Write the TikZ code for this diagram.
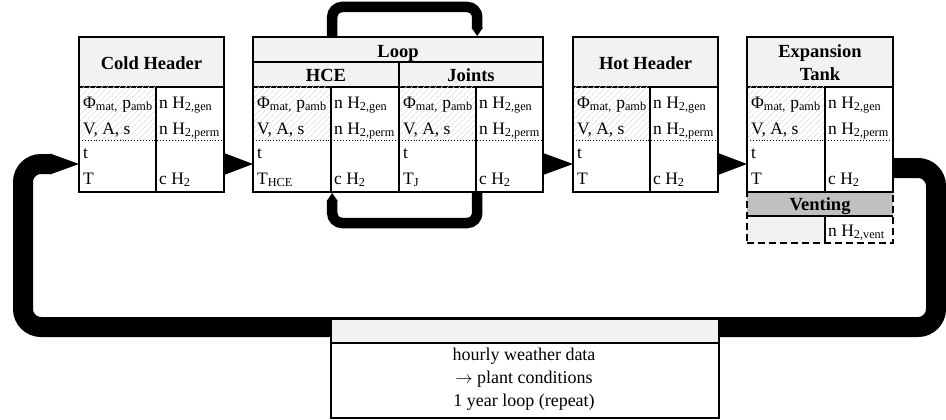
\documentclass[tikz,border=0pt]{standalone}
\usepackage{fontspec}
\setmainfont{Liberation Serif}
\usetikzlibrary{patterns.meta,calc}
\pgfdeclarelayer{bg}
\pgfsetlayers{bg,main}
\definecolor{headgray}{RGB}{242,242,242}
\definecolor{ventgray}{RGB}{192,192,192}
\definecolor{hatchgray}{RGB}{222,222,222}
\newcommand\lo[1]{\textsubscript{#1}}
% one component column pair: #1 left x, #2 divider x, #3 right x, #4 temperature, #5 name prefix
\newcommand\cellblock[5]{%
  \fill[pattern={Lines[angle=45,distance=4pt,line width=0.8pt]}, pattern color=hatchgray] (#1,87) rectangle (#2,140);
  \draw[dotted, line width=0.9pt] (#1,140) -- (#3,140);
  \draw[divider] (#2,87) -- (#2,192);
  \node[cell] (#5-phi)  at (#1+4,108) {Φ\lo{mat,} p\lo{amb}};
  \node[cell] (#5-vas)  at (#1+4,134) {V, A, s};
  \node[cell] (#5-t)    at (#1+4,158) {t};
  \node[cell] (#5-temp) at (#1+4,184) {#4};
  \node[cell] (#5-gen)  at (#2+3,108) {n H\lo{2,gen}};
  \node[cell] (#5-perm) at (#2+3,134) {n H\lo{2,perm}};
  \node[cell] (#5-conc) at (#2+3,184) {c H\lo{2}};
}
\begin{document}
\begin{tikzpicture}[x=1pt,y=-1pt,
  frame/.style={draw=black, line width=1.8pt, inner sep=0pt, outer sep=0pt, anchor=north west},
  rule/.style={line width=1.4pt},
  divider/.style={line width=1.3pt},
  cell/.style={anchor=base west, inner sep=0pt, font=\fontsize{17.5}{20}\selectfont},
  title/.style={anchor=base, inner sep=0pt, font=\fontsize{18.5}{22}\selectfont\bfseries},
  body/.style={anchor=base, inner sep=0pt, font=\fontsize{18}{22}\selectfont},
  smallflow/.style={line width=10.5pt, rounded corners=10pt},
  bigflow/.style={line width=20pt, rounded corners=18pt}]
\useasboundingbox (0,0) rectangle (946,420);

% ---- Cold Header ----
\fill[headgray] (79,37) rectangle (224,87);
\draw[rule] (79,87) -- (224,87);
\cellblock{79}{156}{224}{T}{cold}
\node[title] (coldtitle) at (151.5,69.5) {Cold Header};
\node[frame, minimum width=145pt, minimum height=155pt] (cold) at (79,37) {};

% ---- Loop (HCE + Joints) ----
\fill[headgray] (253,37) rectangle (543,87);
\draw[rule] (253,62) -- (543,62);
\draw[rule] (253,87) -- (543,87);
\cellblock{253}{331}{399}{T\lo{HCE}}{hce}
\cellblock{399}{476}{543}{T\lo{J}}{jnt}
\draw[rule] (399,62) -- (399,192);
\node[title] (looptitle) at (398,58) {Loop};
\node[title] (hcetitle) at (326,81.5) {HCE};
\node[title] (jnttitle) at (471,81.5) {Joints};
\node[inner sep=0pt, minimum width=146pt, minimum height=130pt, anchor=north west] (hce) at (253,62) {};
\node[inner sep=0pt, minimum width=144pt, minimum height=130pt, anchor=north west] (joints) at (399,62) {};
\node[frame, minimum width=290pt, minimum height=155pt] (loop) at (253,37) {};

% ---- Hot Header ----
\fill[headgray] (573,37) rectangle (718,87);
\draw[rule] (573,87) -- (718,87);
\cellblock{573}{650}{718}{T}{hot}
\node[title] (hottitle) at (645.5,69.5) {Hot Header};
\node[frame, minimum width=145pt, minimum height=155pt] (hot) at (573,37) {};

% ---- Expansion Tank with venting ----
\fill[headgray] (747,37) rectangle (893,87);
\draw[rule] (747,87) -- (893,87);
\cellblock{747}{825}{893}{T}{exp}
\node[title] (exptitleA) at (820,57.5) {Expansion};
\node[title] (exptitleB) at (820,80.5) {Tank};
\fill[ventgray] (747,192) rectangle (893,216);
\fill[headgray] (747,216) rectangle (825,243);
\draw[divider] (747,216) -- (893,216);
\draw[divider] (825,216) -- (825,243);
\node[title] (venttitle) at (820,210) {Venting};
\node[cell] (ventgas) at (828,236) {n H\lo{2,vent}};
\node[frame, line width=2pt, dash pattern=on 7pt off 4pt, minimum width=146pt, minimum height=51pt] (vent) at (747,192) {};
\node[frame, minimum width=146pt, minimum height=155pt] (exp) at (747,37) {};

% ---- Weather data loop ----
\fill[white] (330,318) rectangle (718,417);
\fill[headgray] (330,318) rectangle (718,343);
\draw[line width=1.1pt] (330,343) -- (718,343);
\node[body] (wline1) at (524,360) {hourly weather data};
\node[body] (wline2) at (524,383) {$\rightarrow$ plant conditions};
\node[body] (wline3) at (524,406) {1 year loop (repeat)};
\node[draw=black, line width=1.5pt, inner sep=0pt, anchor=north west, minimum width=388pt, minimum height=99pt] (weather) at (330,318) {};

% ---- Connectors ----
\coordinate (flowrow) at (0,164);
\begin{pgfonlayer}{bg}
  % wedge arrows between neighbouring components
  \fill ($(cold.east |- flowrow)+(0,-11)$) -- (loop.west |- flowrow) -- ($(cold.east |- flowrow)+(0,11)$) -- cycle;
  \fill ($(loop.east |- flowrow)+(0,-11)$) -- (hot.west |- flowrow) -- ($(loop.east |- flowrow)+(0,11)$) -- cycle;
  \fill ($(hot.east |- flowrow)+(0,-11)$) -- (exp.west |- flowrow) -- ($(hot.east |- flowrow)+(0,11)$) -- cycle;
  % inner circulation HCE -> Joints (over the top)
  \draw[smallflow] ($(loop.north -| hce)+(6,0)$) -- ++(0,-30) -| ($(loop.north -| joints)+(6,-8)$);
  \fill ($(loop.north -| joints)+(0.5,-9)$) -- ($(loop.north -| joints)+(6,-1)$) -- ($(loop.north -| joints)+(11.5,-9)$) -- cycle;
  % inner circulation Joints -> HCE (underneath)
  \draw[smallflow] ($(loop.south -| joints)+(6,0)$) -- ++(0,31) -| ($(loop.south -| hce)+(6,8)$);
  \fill ($(loop.south -| hce)+(0.5,9)$) -- ($(loop.south -| hce)+(6,1)$) -- ($(loop.south -| hce)+(11.5,9)$) -- cycle;
  % main return loop back to the cold header
  \draw[bigflow] (exp.east |- 0,168) -- (936,168) -- (936,327) -- (23,327) -- (23,164) -- ($(cold.west |- flowrow)+(-28,0)$);
  \fill ($(cold.west |- flowrow)+(-29,-10.5)$) -- (cold.west |- flowrow) -- ($(cold.west |- flowrow)+(-29,10.5)$) -- cycle;
\end{pgfonlayer}
\end{tikzpicture}
\end{document}
